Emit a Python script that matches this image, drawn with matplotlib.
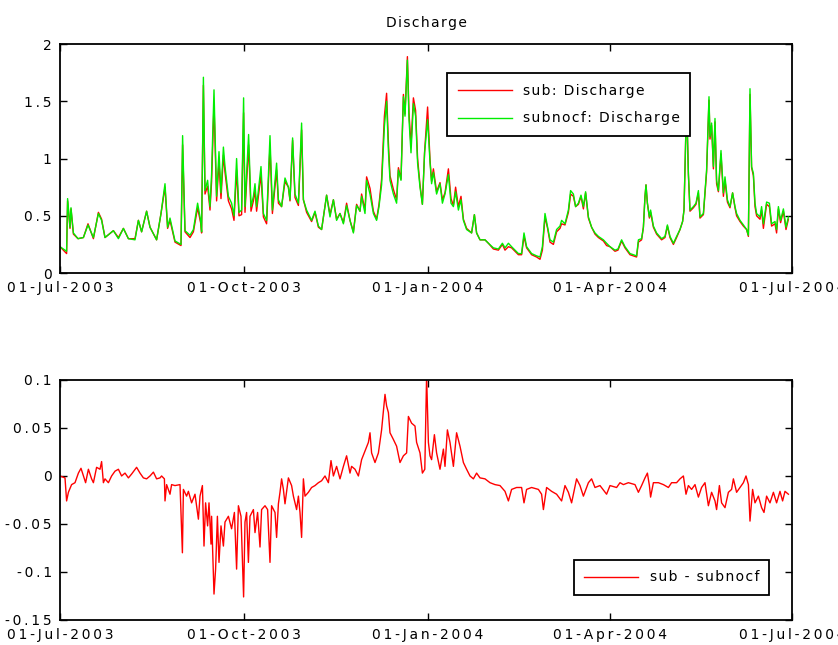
import datetime as dt
import numpy as np
import matplotlib
matplotlib.use("Agg")
from matplotlib import pyplot as plt
import matplotlib.dates as mdates

# days since 01-Jul-2003, subnocf discharge, sub discharge
q_days = [0, 3.3, 3.8, 5, 5.5, 6.7, 9, 11.7, 14, 16.7, 19.2, 20.8, 22.5, 26.7, 29.2, 31.7,
          34.2, 37.5, 39.2, 40.8, 43.3, 45, 48.3, 50.5, 52.5, 53.8, 55, 57.5, 60.5, 61.3,
          62.5, 65, 66.7, 68.8, 70.3, 70.8, 71.7, 72.5, 73.8, 75, 75.8, 77, 78.3, 79.5,
          80.5, 81.7, 82.5, 84.2, 85.8, 87, 88.3, 89.5, 90.8, 91.8, 92.5, 94.3, 95.5, 96.7,
          97.5, 98.3, 99.2, 100.5, 101.7, 103.3, 105, 106.2, 108.3, 109.2, 110.8, 112.5,
          114.2, 115, 116.3, 117.5, 119.2, 120.8, 121.7, 123.3, 125.8, 127.5, 129.2, 130.8,
          133.3, 135, 136.7, 138.3, 140, 141.7, 143.3, 145, 146.7, 148.3, 150, 150.8, 152.5,
          153.3, 155, 156.7, 158.3, 159.5, 160.8, 162.2, 163.3, 164.2, 165, 166.7, 168.3,
          169.2, 170.5, 171.7, 172.5, 173.7, 174.5, 175.5, 176.7, 177.8, 178.8, 180, 181.2,
          182.3, 183.8, 185, 185.8, 186.7, 188.3, 190, 191.2, 192.5, 194.2, 195.5, 196.7,
          197.8, 199.2, 200.5, 201.7, 203.3, 205.8, 207.2, 208.3, 210, 212.5, 214.2, 216.7,
          219.2, 221.2, 222.5, 224.2, 225.8, 227.5, 229.2, 230.8, 232, 233.3, 235.8, 238.3,
          240, 241.2, 242.5, 243.8, 245, 246.7, 248.3, 250, 250.8, 252.5, 254.2, 255.3,
          256.7, 257.8, 259.2, 260.5, 261.7, 262.8, 264.2, 265.8, 267.5, 269.2, 271.7, 273.3,
          275, 277.5, 279, 280.8, 282.5, 285, 288.3, 289.2, 290.8, 291.7, 292.5, 293, 293.7,
          294.7, 295.3, 296.7, 298.3, 300.8, 302.5, 303.7, 305, 306.7, 308.3, 310, 311.3,
          312, 313.3, 314.2, 315, 316.7, 318, 319.2, 320, 321.7, 323.3, 324.5, 325, 325.8,
          326.7, 327.5, 328.3, 329.2, 330.5, 331.7, 332.5, 333.7, 335, 336.3, 337.5, 338.3,
          340, 341.7, 343.3, 344.2, 345, 345.8, 346.7, 347.5, 348.3, 350, 350.8, 351.7,
          353.3, 354.7, 355.8, 357.5, 358.3, 359.2, 360.3, 361.7, 363, 364.2]

subnocf = [0.23, 0.19, 0.65, 0.40, 0.57, 0.35, 0.30, 0.31, 0.42, 0.31, 0.52, 0.46, 0.31, 0.37,
           0.30, 0.39, 0.30, 0.29, 0.46, 0.36, 0.54, 0.40, 0.29, 0.52, 0.78, 0.40, 0.48, 0.28,
           0.25, 1.20, 0.37, 0.33, 0.38, 0.61, 0.46, 0.36, 1.71, 0.72, 0.81, 0.58, 0.87, 1.60,
           0.67, 1.06, 0.70, 1.10, 0.93, 0.67, 0.61, 0.50, 1.00, 0.53, 0.55, 1.53, 0.58, 1.21,
           0.58, 0.67, 0.78, 0.58, 0.72, 0.93, 0.52, 0.46, 1.20, 0.55, 0.96, 0.64, 0.58, 0.83,
           0.75, 0.64, 1.18, 0.69, 0.61, 1.31, 0.64, 0.55, 0.46, 0.54, 0.41, 0.38, 0.68, 0.49,
           0.64, 0.46, 0.52, 0.43, 0.59, 0.46, 0.35, 0.59, 0.54, 0.67, 0.52, 0.81, 0.69, 0.52,
           0.46, 0.58, 0.77, 1.28, 1.50, 1.07, 0.81, 0.69, 0.61, 0.90, 0.81, 1.54, 1.37, 1.86,
           1.34, 1.05, 1.48, 1.37, 0.96, 0.75, 0.60, 1.05, 1.34, 0.97, 0.78, 0.88, 0.69, 0.78,
           0.61, 0.69, 0.86, 0.61, 0.58, 0.71, 0.55, 0.64, 0.46, 0.38, 0.35, 0.51, 0.35, 0.29,
           0.29, 0.26, 0.22, 0.21, 0.26, 0.22, 0.26, 0.23, 0.20, 0.17, 0.17, 0.35, 0.23, 0.17,
           0.15, 0.14, 0.23, 0.52, 0.40, 0.29, 0.27, 0.38, 0.41, 0.46, 0.43, 0.55, 0.72, 0.69,
           0.58, 0.61, 0.68, 0.58, 0.71, 0.49, 0.40, 0.35, 0.32, 0.29, 0.26, 0.23, 0.20, 0.21,
           0.29, 0.23, 0.17, 0.15, 0.29, 0.30, 0.40, 0.67, 0.77, 0.61, 0.49, 0.55, 0.41, 0.35,
           0.30, 0.32, 0.42, 0.32, 0.26, 0.32, 0.38, 0.45, 0.55, 1.51, 0.87, 0.55, 0.58, 0.61,
           0.72, 0.49, 0.52, 0.90, 1.54, 1.19, 1.31, 0.93, 1.35, 0.81, 0.72, 1.07, 0.70, 0.84,
           0.64, 0.58, 0.70, 0.58, 0.52, 0.46, 0.42, 0.38, 0.33, 1.61, 0.93, 0.87, 0.61, 0.52,
           0.49, 0.58, 0.43, 0.62, 0.61, 0.43, 0.45, 0.38, 0.58, 0.46, 0.56, 0.40, 0.49]

sub = [0.23, 0.17, 0.63, 0.39, 0.56, 0.34, 0.30, 0.31, 0.43, 0.30, 0.53, 0.47, 0.31, 0.37,
       0.31, 0.39, 0.30, 0.30, 0.46, 0.36, 0.54, 0.40, 0.29, 0.52, 0.75, 0.39, 0.46, 0.27,
       0.24, 1.12, 0.36, 0.31, 0.36, 0.57, 0.44, 0.35, 1.64, 0.69, 0.76, 0.55, 0.80, 1.48,
       0.63, 0.97, 0.65, 1.03, 0.88, 0.63, 0.56, 0.46, 0.90, 0.50, 0.51, 1.40, 0.53, 1.12,
       0.54, 0.63, 0.72, 0.54, 0.67, 0.86, 0.49, 0.43, 1.11, 0.52, 0.90, 0.61, 0.58, 0.80,
       0.75, 0.63, 1.16, 0.66, 0.59, 1.25, 0.64, 0.53, 0.45, 0.53, 0.40, 0.38, 0.68, 0.51,
       0.64, 0.47, 0.52, 0.44, 0.61, 0.46, 0.36, 0.60, 0.54, 0.69, 0.55, 0.84, 0.74, 0.54,
       0.47, 0.60, 0.82, 1.37, 1.57, 1.14, 0.85, 0.73, 0.64, 0.92, 0.82, 1.56, 1.39, 1.89,
       1.40, 1.11, 1.53, 1.42, 1.00, 0.77, 0.60, 1.06, 1.45, 0.99, 0.80, 0.91, 0.71, 0.79,
       0.64, 0.70, 0.91, 0.65, 0.59, 0.75, 0.58, 0.67, 0.47, 0.39, 0.35, 0.51, 0.35, 0.29,
       0.29, 0.26, 0.21, 0.20, 0.25, 0.20, 0.23, 0.22, 0.19, 0.16, 0.16, 0.32, 0.22, 0.16,
       0.14, 0.12, 0.20, 0.49, 0.39, 0.27, 0.25, 0.36, 0.39, 0.43, 0.42, 0.53, 0.69, 0.67,
       0.58, 0.60, 0.67, 0.56, 0.70, 0.48, 0.40, 0.34, 0.31, 0.28, 0.24, 0.23, 0.19, 0.20,
       0.28, 0.22, 0.16, 0.14, 0.27, 0.29, 0.40, 0.67, 0.77, 0.61, 0.48, 0.53, 0.40, 0.34,
       0.29, 0.31, 0.41, 0.31, 0.25, 0.31, 0.38, 0.45, 0.55, 1.49, 0.86, 0.54, 0.57, 0.60,
       0.70, 0.48, 0.51, 0.88, 1.51, 1.17, 1.29, 0.91, 1.32, 0.78, 0.71, 1.04, 0.67, 0.81,
       0.62, 0.57, 0.70, 0.57, 0.50, 0.45, 0.41, 0.38, 0.32, 1.56, 0.92, 0.85, 0.58, 0.50,
       0.47, 0.55, 0.39, 0.60, 0.58, 0.41, 0.43, 0.35, 0.56, 0.44, 0.54, 0.38, 0.47]

# days since 01-Jul-2003, sub - subnocf
d_days = [0, 2.5, 3.3, 4.2, 5.8, 7.5, 9.2, 10.5, 11.7, 12.8, 14.2, 15.8, 16.7, 18.3, 20, 20.8,
          21.7, 22.5, 24.2, 25.8, 27.5, 29.2, 30.8, 32.5, 34.2, 35.8, 38.3, 40, 41.7, 43.3,
          45, 46.7, 48.3, 50, 50.8, 52.2, 52.5, 53.3, 55, 55.8, 57.5, 60, 61.2, 61.7, 63.3,
          64.2, 65.8, 67.5, 69.2, 70, 71.2, 72, 72.8, 73.8, 74.5, 75.5, 75.8, 77, 77.8, 78.7,
          79.5, 80.5, 81.7, 82.5, 84.2, 85.8, 87.2, 88.3, 89.2, 90.5, 91.8, 92.5, 93.3, 94.2,
          95, 96.7, 97.5, 98.8, 100, 100.8, 102.5, 103.8, 105, 105.8, 107.5, 108.3, 109.2,
          110, 110.8, 111.7, 112.5, 114.2, 115.8, 116.7, 118.3, 119.2, 120, 120.8, 121.7,
          122.5, 124.2, 125.8, 127.5, 129.2, 130.8, 132.5, 134.2, 135.5, 136.7, 138.3, 140,
          141.7, 143.3, 145, 145.8, 147.5, 149.2, 150.8, 152.5, 154.2, 155, 155.8, 157.5,
          159.2, 160.8, 162.5, 163.3, 164.2, 165, 166.7, 168.3, 170, 171.7, 173.3, 174.2,
          175.8, 177.5, 178.3, 180, 181.2, 182.4, 183.3, 184.2, 185, 185.8, 187.2, 188.3, 190,
          191.7, 192.5, 193.7, 195, 196.7, 198.3, 200, 201.7, 203.3, 205, 206.7, 208.3, 210,
          212.5, 215, 217.5, 220, 222.5, 224.2, 225.8, 228.3, 230.8, 232, 233.3, 235.8, 239.2,
          240.8, 241.7, 243.3, 245.8, 248.3, 250.8, 252.5, 254.2, 255.8, 258.3, 260, 261.7,
          264.2, 265.8, 267.5, 270, 273.3, 275, 278.3, 280, 281.7, 284.2, 287.5, 289.2,
          290.8, 292.5, 293.7, 294.7, 295.3, 296.7, 299.2, 301.7, 304.2, 305.8, 308.3, 310,
          311.7, 313, 314.2, 315.8, 317.5, 319.2, 320.8, 322.5, 324.2, 325.8, 327.5, 328.3,
          329.7, 330.8, 332.5, 334.2, 335.8, 336.7, 338.3, 340, 341.7, 343, 344.2, 345,
          346.3, 347.5, 349.2, 350.8, 352, 353.3, 355, 356.7, 358.3, 360, 361.3, 362.5, 364.2]

diff = [0.000, -0.002, -0.026, -0.017, -0.009, -0.007, 0.003, 0.008, 0.000, -0.007, 0.007,
        -0.003, -0.007, 0.009, 0.007, 0.015, -0.007, -0.003, -0.007, 0.000, 0.005, 0.007,
        0.000, 0.003, -0.002, 0.002, 0.009, 0.003, -0.002, -0.003, 0.000, 0.004, -0.003,
        -0.002, 0.000, -0.003, -0.026, -0.009, -0.019, -0.009, -0.010, -0.009, -0.080,
        -0.014, -0.021, -0.016, -0.028, -0.019, -0.045, -0.021, -0.010, -0.073, -0.028,
        -0.052, -0.028, -0.071, -0.042, -0.123, -0.097, -0.042, -0.090, -0.052, -0.073,
        -0.048, -0.042, -0.055, -0.038, -0.097, -0.031, -0.042, -0.126, -0.048, -0.038,
        -0.090, -0.042, -0.035, -0.059, -0.038, -0.074, -0.035, -0.031, -0.035, -0.090,
        -0.031, -0.038, -0.064, -0.029, -0.017, -0.003, -0.014, -0.029, -0.002, -0.010,
        -0.021, -0.035, -0.021, -0.038, -0.064, -0.003, -0.021, -0.017, -0.012, -0.010,
        -0.007, -0.005, 0.000, -0.007, 0.016, 0.000, 0.010, -0.003, 0.010, 0.021, 0.003,
        0.010, 0.007, 0.000, 0.017, 0.026, 0.035, 0.045, 0.024, 0.014, 0.024, 0.048, 0.085,
        0.073, 0.066, 0.045, 0.038, 0.031, 0.014, 0.021, 0.024, 0.062, 0.055, 0.052, 0.035,
        0.024, 0.003, 0.007, 0.104, 0.035, 0.021, 0.017, 0.043, 0.024, 0.007, 0.028, 0.010,
        0.048, 0.035, 0.010, 0.045, 0.031, 0.014, 0.007, 0.000, -0.003, 0.003, -0.002,
        -0.003, -0.007, -0.009, -0.010, -0.016, -0.026, -0.014, -0.012, -0.012, -0.028,
        -0.014, -0.012, -0.014, -0.019, -0.035, -0.012, -0.016, -0.019, -0.026, -0.010,
        -0.017, -0.028, -0.003, -0.010, -0.021, -0.007, -0.003, -0.012, -0.010, -0.019,
        -0.010, -0.012, -0.007, -0.009, -0.007, -0.009, -0.017, -0.010, -0.002, 0.003,
        -0.010, -0.022, -0.007, -0.007, -0.009, -0.012, -0.007, -0.007, -0.003, 0.000,
        -0.019, -0.010, -0.014, -0.009, -0.022, -0.012, -0.007, -0.031, -0.017, -0.026,
        -0.035, -0.010, -0.028, -0.033, -0.017, -0.014, -0.003, -0.017, -0.012, -0.007,
        0.000, -0.009, -0.047, -0.014, -0.028, -0.021, -0.033, -0.038, -0.021, -0.028,
        -0.017, -0.028, -0.016, -0.026, -0.016, -0.019]

tick_dates = [dt.datetime(2003, 7, 1), dt.datetime(2003, 10, 1), dt.datetime(2004, 1, 1),
              dt.datetime(2004, 4, 1), dt.datetime(2004, 7, 1)]
tick_names = ["01-Jul-2003", "01-Oct-2003", "01-Jan-2004", "01-Apr-2004", "01-Jul-2004"]

plt.rcParams["font.family"] = ["DejaVu Sans"]
plt.rcParams["font.size"] = 10


def spaced(s, gap="\u2009"):
    # matlab style wide letters
    return gap.join(s)


HAIR = "\u200a"

start = mdates.date2num(dt.datetime(2003, 7, 1))
qx = start + np.array(q_days)
dx = start + np.array(d_days)
ticks = mdates.date2num(tick_dates)

fig = plt.figure(figsize=(8.38, 6.45), dpi=100)
ax1 = fig.add_axes([0.0716, 0.5767, 0.8735, 0.3550])
ax2 = fig.add_axes([0.0716, 0.0388, 0.8735, 0.3721])

ax1.plot(qx, sub, color="#ff0000", lw=1.0, label=spaced("sub: Discharge", HAIR))
ax1.plot(qx, subnocf, color="#00ee00", lw=1.0, label=spaced("subnocf: Discharge", HAIR))
ax1.set_ylim(0, 2)
ax1.set_yticks([0, 0.5, 1, 1.5, 2])
ax1.set_yticklabels([spaced(t) for t in ["0", "0.5", "1", "1.5", "2"]])
ax1.set_title(spaced("Discharge", HAIR), fontsize=10, pad=12)

ax2.plot(dx, diff, color="#ff0000", lw=1.0, label=spaced("sub - subnocf", HAIR))
ax2.set_ylim(-0.15, 0.1)
ax2.set_yticks([-0.15, -0.1, -0.05, 0, 0.05, 0.1])
ax2.set_yticklabels([spaced(t) for t in ["-0.15", "-0.1", "-0.05", "0", "0.05", "0.1"]])

for ax in (ax1, ax2):
    ax.set_xlim(ticks[0], ticks[-1])
    ax.set_xticks(ticks)
    ax.set_xticklabels([spaced(t) for t in tick_names])
    ax.tick_params(direction="in", top=True, right=True, length=5, width=1, pad=6,
                   labelsize=10)
    for sp in ax.spines.values():
        sp.set_linewidth(1.3)

leg1 = ax1.legend(loc="upper left", bbox_to_anchor=(0.529, 0.873), fancybox=False,
                  framealpha=1, edgecolor="black", handlelength=3.9, borderpad=0.75,
                  labelspacing=1.0, borderaxespad=0, fontsize=10)
leg1.get_frame().set_linewidth(1.3)
leg2 = ax2.legend(loc="upper left", bbox_to_anchor=(0.702, 0.25), fancybox=False,
                  framealpha=1, edgecolor="black", handlelength=3.9, borderpad=0.75,
                  borderaxespad=0, fontsize=10)
leg2.get_frame().set_linewidth(1.3)

fig.savefig("out.png", dpi=100)
